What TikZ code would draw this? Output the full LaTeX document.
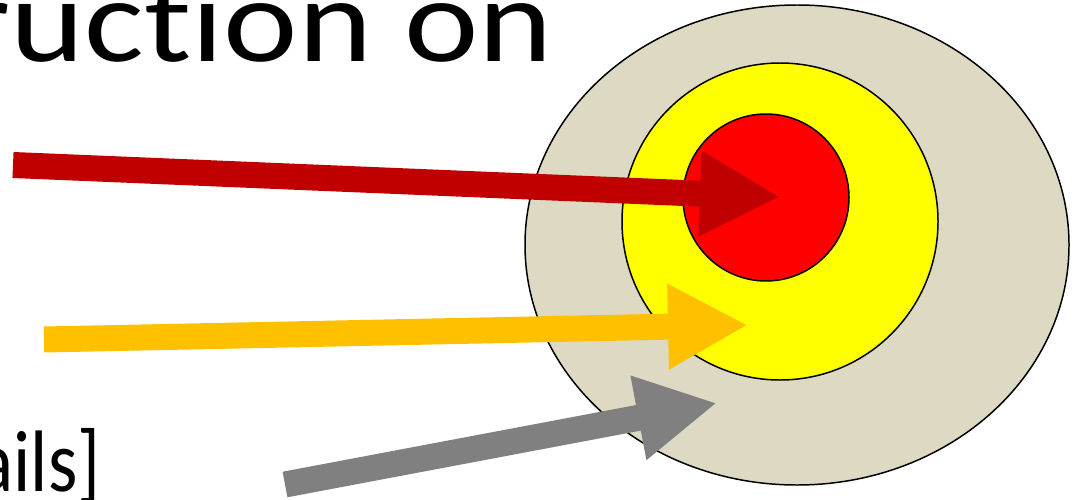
\documentclass[tikz,border=0pt]{standalone}
\usepackage{fontspec}
\setmainfont{Carlito}[Ligatures={NoCommon,NoContextual}]
\usetikzlibrary{arrows.meta}
\definecolor{RingSand}{HTML}{DDD9C3}
\definecolor{RingYellow}{HTML}{FFFF00}
\definecolor{RingRed}{HTML}{FF0000}
\definecolor{ShotRed}{HTML}{C00000}
\definecolor{ShotAmber}{HTML}{FFC000}
\definecolor{ShotGrey}{HTML}{808080}
\tikzset{
  ring/.style={draw=black, line width=0.85pt},
  shot/.style={-{Triangle[length=1.6cm,width=1.6cm]}, line width=0.52cm},
  slidetext/.style={inner sep=0pt, anchor=base east, text=black},
}
\begin{document}
\begin{tikzpicture}[x=0.02cm,y=-0.02cm]
  % one unit = one pixel of the slide crop, y pointing down
  \useasboundingbox (0,0) rectangle (1078,500);
  \node[slidetext, font=\fontsize{68}{80}\selectfont, xscale=1.18] (title) at (553,62) {ruct\hbox{i}on on};
  \node[slidetext, font=\fontsize{46}{54}\selectfont, xscale=0.93, yscale=1.08] (detail) at (101,491) {ails]};
  % target rings
  \filldraw[ring, fill=RingSand] (797,245) ellipse [x radius=272, y radius=240];
  \filldraw[ring, fill=RingYellow] (780,221.5) ellipse [x radius=158, y radius=158.5];
  \filldraw[ring, fill=RingRed] (766,197.5) ellipse [x radius=83, y radius=83.5];
  % shots
  \coordinate (redfrom) at (13,165);
  \coordinate (redhit) at (780,197);
  \coordinate (amberfrom) at (44,339.5);
  \coordinate (amberhit) at (748,325);
  \coordinate (greyfrom) at (285,484.5);
  \coordinate (greyhit) at (717,403);
  \draw[shot, ShotRed] (redfrom) -- (redhit);
  \draw[shot, ShotAmber] (amberfrom) -- (amberhit);
  \draw[shot, ShotGrey] (greyfrom) -- (greyhit);
\end{tikzpicture}
\end{document}
